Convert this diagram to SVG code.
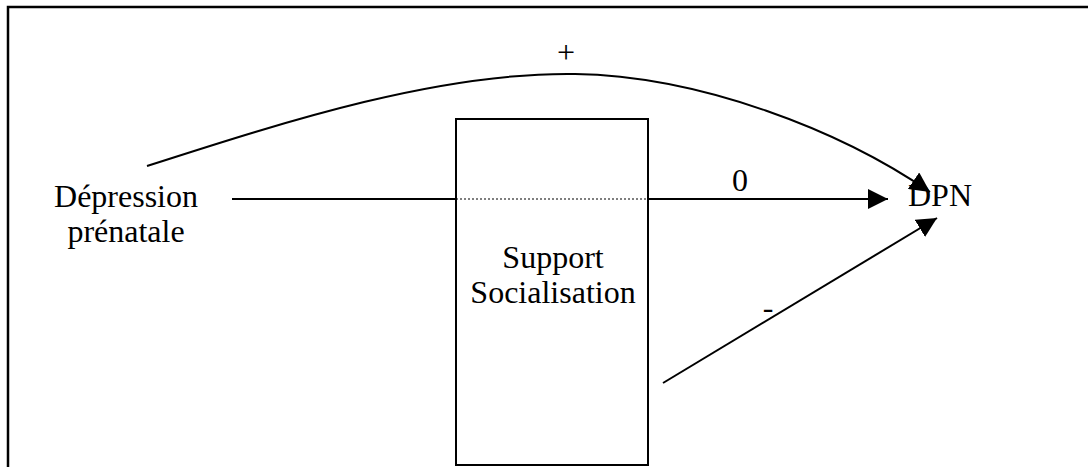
<svg xmlns="http://www.w3.org/2000/svg" width="1088" height="467" viewBox="0 0 1088 467">
<style>
text{font-family:"Liberation Serif","Times New Roman",serif;font-size:32px;fill:#000}
.ln{stroke:#000;stroke-width:2;fill:none}
</style>
<defs>
<marker id="ah2" viewBox="0 0 20 20" refX="20" refY="10" markerWidth="20" markerHeight="20" markerUnits="userSpaceOnUse" orient="auto">
<path d="M0,0 L20,10 L0,20 Z" fill="#000"/>
</marker>
</defs>
<rect width="1088" height="467" fill="#fff"/>
<path d="M8,467 V7 H1088" stroke="#000" stroke-width="2.5" fill="none"/>
<g id="connectors">
<path class="ln" d="M147,166 C290,120 440,72 575,74 C700,76 840,130 930,192" marker-end="url(#ah2)"/>
<line class="ln" x1="232" y1="199" x2="456" y2="199"/>
<line x1="456" y1="199" x2="648" y2="199" stroke="#000" stroke-width="1.2" stroke-dasharray="2,2"/>
<line class="ln" x1="648" y1="199" x2="888" y2="199" marker-end="url(#ah2)"/>
<line class="ln" x1="663" y1="383" x2="937" y2="218" marker-end="url(#ah2)"/>
<text x="566" y="63" text-anchor="middle">+</text>
<text x="740" y="191" text-anchor="middle">0</text>
<text x="768" y="318" text-anchor="middle">-</text>
</g>
<g id="depression">
<text x="126" y="207" text-anchor="middle">Dépression</text>
<text x="126" y="242" text-anchor="middle">prénatale</text>
</g>
<g id="support">
<rect x="456" y="119" width="192" height="346" fill="none" stroke="#000" stroke-width="2"/>
<text x="553" y="268" text-anchor="middle">Support</text>
<text x="553" y="303" text-anchor="middle">Socialisation</text>
</g>
<g id="dpn">
<text x="940" y="206" text-anchor="middle">DPN</text>
</g>
</svg>
